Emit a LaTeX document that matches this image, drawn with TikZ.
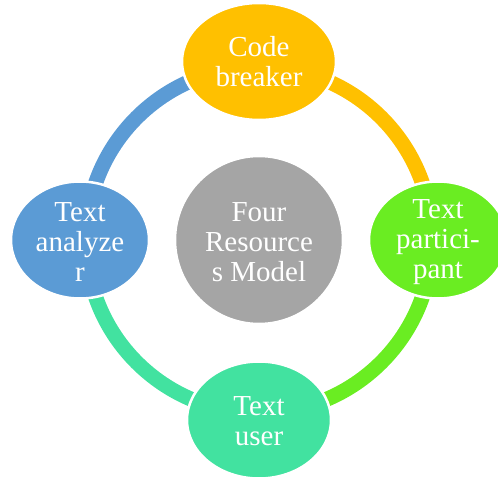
\documentclass[tikz,border=0pt]{standalone}
\usepackage{fontspec}
\setmainfont{Liberation Serif}
\usetikzlibrary{shapes.geometric}
\definecolor{cOrange}{RGB}{255,192,0}
\definecolor{cBlue}{RGB}{91,155,213}
\definecolor{cGreen}{RGB}{106,237,34}
\definecolor{cTeal}{RGB}{66,226,160}
\definecolor{cGray}{RGB}{165,165,165}
\tikzset{
  ring/.style={line width=15pt},
  bubble/.style={ellipse, draw=white, line width=2.5pt, inner sep=0pt},
  caption/.style={text=white, align=center, font=\fontsize{29}{30}\selectfont, inner sep=0pt}
}
\begin{document}
\begin{tikzpicture}[x=1pt,y=-1pt]
\useasboundingbox (0,0) rectangle (498,478);
% ring segments around the centre
\coordinate (c) at (259,240);
\draw[ring,cOrange] (259,240) ++(0:173) arc[start angle=0,end angle=-90,radius=173];
\draw[ring,cBlue] (259,240) ++(-90:173) arc[start angle=-90,end angle=-180,radius=173];
\draw[ring,cTeal] (259,240) ++(180:173) arc[start angle=180,end angle=90,radius=173];
\draw[ring,cGreen] (259,240) ++(90:173) arc[start angle=90,end angle=0,radius=173];
% bubbles
\node[bubble, fill=cGray, minimum width=168pt, minimum height=168pt] (core) at (259,240) {};
\node[bubble, fill=cOrange, minimum width=154pt, minimum height=117pt] (top) at (259,61.5) {};
\node[bubble, fill=cGreen, minimum width=138pt, minimum height=117pt] (right) at (438,240) {};
\node[bubble, fill=cTeal, minimum width=144pt, minimum height=117pt] (bottom) at (259,420) {};
\node[bubble, fill=cBlue, minimum width=138pt, minimum height=117pt] (left) at (80,240) {};
% labels
\node[caption] (coreT) at (259,242) {Four\\Resource\\s Model};
\node[caption] (topT) at (259,62) {Code\\breaker};
\node[caption] (rightT) at (438,242) {Text\\partici-\\pant};
\node[caption] (bottomT) at (259,421) {Text\\user};
\node[caption] (leftT) at (80,242) {Text\\analyze\\r};
\end{tikzpicture}
\end{document}
